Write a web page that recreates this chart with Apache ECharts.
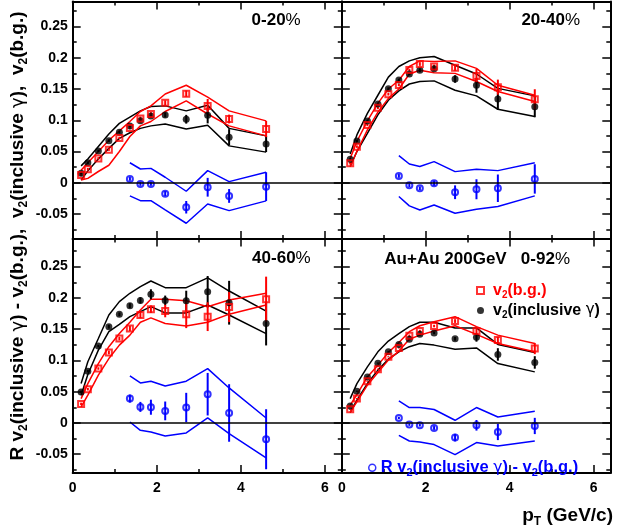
<!DOCTYPE html>
<html><head><meta charset="utf-8">
<script src="https://cdn.jsdelivr.net/npm/echarts@6/dist/echarts.min.js"></script>
<style>html,body{margin:0;padding:0;background:#fff}#c{width:628px;height:529px}</style>
</head><body><div id="c"></div><script>
// ---------- data ----------
const pT     = [0.2, 0.36, 0.61, 0.86, 1.11, 1.36, 1.61, 1.86, 2.2, 2.7, 3.21, 3.72, 4.6];
const pTdiff = [1.36, 1.61, 1.86, 2.2, 2.7, 3.21, 3.72, 4.6];
const panelLabels = ['0-20', '20-40', '40-60', '0-92'];
const xTicks = [0, 2, 4, 6];
const xMinorTicks = [1, 3, 5];
const yTicks = [-0.05, 0, 0.05, 0.1, 0.15, 0.2, 0.25];
const yMinorTicks = [-0.075, -0.025, 0.025, 0.075, 0.125, 0.175, 0.225, 0.275];

// 0-20%
const bg_0_20      = [0.0125,0.0216,0.039,0.053,0.0717,0.0877,0.103,0.110,0.128,0.1426,0.123,0.102,0.086];
const bgErr_0_20   = [0.002,0.002,0.002,0.002,0.002,0.002,0.003,0.003,0.004,0.005,0.011,0.007,0.013];
const bgHi_0_20    = [0.020,0.032,0.050,0.068,0.083,0.098,0.114,0.123,0.142,0.156,0.137,0.115,0.099];
const bgLo_0_20    = [0.0045,0.007,0.018,0.028,0.050,0.074,0.091,0.098,0.114,0.131,0.110,0.091,0.075];
const inc_0_20     = [0.0152,0.032,0.0509,0.0674,0.0808,0.0909,0.0994,0.1069,0.1085,0.1016,0.108,0.0728,0.0621];
const incErr_0_20  = [0.002,0.002,0.002,0.002,0.002,0.002,0.003,0.003,0.004,0.007,0.013,0.013,0.013];
const incHi_0_20   = [0.027,0.038,0.058,0.078,0.095,0.105,0.115,0.122,0.123,0.115,0.124,0.087,0.075];
const incLo_0_20   = [0.0045,0.019,0.038,0.055,0.071,0.080,0.087,0.091,0.094,0.086,0.092,0.059,0.049];
const diff_0_20    = [0.0061,-0.0019,-0.0019,-0.0174,-0.0392,-0.0072,-0.0211,-0.0062];
const diffErr_0_20 = [0.003,0.003,0.003,0.004,0.010,0.015,0.011,0.023];
const diffHi_0_20  = [0.032,0.022,0.023,0.0088,-0.0136,0.0194,0.0018,0.0168];
const diffLo_0_20  = [-0.021,-0.0286,-0.0286,-0.0435,-0.0648,-0.034,-0.0446,-0.029];

// 20-40%
const bg_20_40      = [0.0312,0.0578,0.0925,0.120,0.1416,0.1565,0.1805,0.190,0.186,0.184,0.171,0.153,0.1336];
const bgErr_20_40   = [0.002,0.002,0.002,0.002,0.002,0.002,0.002,0.003,0.003,0.005,0.011,0.012,0.016];
const bgHi_20_40    = [0.039,0.066,0.099,0.127,0.150,0.164,0.186,0.195,0.194,0.195,0.183,0.156,0.140];
const bgLo_20_40    = [0.026,0.050,0.0845,0.113,0.135,0.150,0.174,0.180,0.176,0.175,0.162,0.146,0.130];
const inc_20_40     = [0.0376,0.0669,0.0989,0.126,0.1506,0.1645,0.174,0.180,0.1826,0.166,0.156,0.134,0.1218];
const incErr_20_40  = [0.002,0.002,0.002,0.002,0.002,0.002,0.002,0.003,0.003,0.006,0.012,0.0176,0.017];
const incHi_20_40   = [0.046,0.0765,0.111,0.140,0.169,0.186,0.195,0.200,0.202,0.188,0.174,0.151,0.139];
const incLo_20_40   = [0.026,0.050,0.079,0.1085,0.132,0.147,0.158,0.162,0.163,0.148,0.139,0.1176,0.106];
const diff_20_40    = [0.0109,-0.004,-0.0088,-0.0008,-0.0152,-0.0104,-0.0088,0.0061];
const diffErr_20_40 = [0.003,0.003,0.003,0.004,0.011,0.016,0.022,0.0235];
const diffHi_20_40  = [0.0434,0.030,0.026,0.0338,0.0178,0.0216,0.0194,0.032];
const diffLo_20_40  = [-0.022,-0.037,-0.0435,-0.0355,-0.0488,-0.0424,-0.038,-0.021];

// 40-60%
const bg_40_60      = [0.0305,0.054,0.0871,0.1128,0.135,0.151,0.1726,0.182,0.179,0.1737,0.170,0.1854,0.198];
const bgErr_40_60   = [0.002,0.002,0.002,0.003,0.003,0.004,0.005,0.006,0.010,0.022,0.023,0.024,0.036];
const bgHi_40_60    = [0.039,0.063,0.095,0.122,0.143,0.161,0.1806,0.198,0.198,0.1955,0.186,0.1966,0.2074];
const bgLo_40_60    = [0.0257,0.0444,0.0764,0.103,0.1245,0.1405,0.161,0.168,0.159,0.155,0.161,0.174,0.1886];
const inc_40_60     = [0.0497,0.0829,0.123,0.154,0.1737,0.1875,0.196,0.2058,0.196,0.1955,0.210,0.1923,0.159];
const incErr_40_60  = [0.002,0.002,0.002,0.003,0.003,0.004,0.005,0.008,0.0077,0.016,0.025,0.035,0.035];
const incHi_40_60   = [0.063,0.098,0.135,0.1726,0.194,0.2074,0.218,0.227,0.2164,0.2164,0.232,0.211,0.179];
const incLo_40_60   = [0.0444,0.0776,0.1165,0.146,0.1577,0.170,0.178,0.186,0.176,0.176,0.1886,0.1726,0.143];
const diff_40_60    = [0.039,0.0257,0.0252,0.0193,0.0247,0.046,0.016,-0.026];
const diffErr_40_60 = [0.0064,0.008,0.012,0.015,0.0235,0.034,0.046,0.048];
const diffHi_40_60  = [0.0753,0.064,0.0668,0.059,0.0668,0.087,0.056,0.008];
const diffLo_40_60  = [0.0016,-0.0117,-0.0144,-0.0208,-0.016,0.008,-0.017,-0.056];

// 0-92%
const bg_0_92      = [0.022,0.039,0.0668,0.086,0.1058,0.120,0.1394,0.147,0.155,0.163,0.147,0.1325,0.119];
const bgErr_0_92   = [0.001,0.001,0.001,0.001,0.001,0.001,0.002,0.002,0.002,0.003,0.004,0.005,0.009];
const bgHi_0_92    = [0.0284,0.0455,0.0737,0.0925,0.1128,0.1288,0.146,0.1555,0.162,0.170,0.154,0.1405,0.127];
const bgLo_0_92    = [0.0176,0.0337,0.0604,0.0808,0.1005,0.115,0.134,0.1405,0.147,0.1555,0.1417,0.127,0.1138];
const inc_0_92     = [0.0273,0.0508,0.0737,0.0957,0.1138,0.1256,0.134,0.142,0.144,0.1346,0.137,0.1096,0.0968];
const incErr_0_92  = [0.001,0.001,0.001,0.001,0.001,0.001,0.002,0.002,0.002,0.003,0.007,0.010,0.010];
const incHi_0_92   = [0.039,0.063,0.0897,0.1138,0.131,0.143,0.154,0.161,0.161,0.152,0.152,0.1256,0.1128];
const incLo_0_92   = [0.0166,0.0364,0.063,0.0845,0.102,0.1138,0.122,0.127,0.1245,0.118,0.120,0.095,0.0817];
const diff_0_92    = [0.008,-0.0026,-0.0037,-0.008,-0.0234,-0.0037,-0.0144,-0.0048];
const diffErr_0_92 = [0.002,0.002,0.002,0.003,0.006,0.0085,0.013,0.013];
const diffHi_0_92  = [0.0353,0.0247,0.0247,0.0215,0.0043,0.0247,0.0096,0.0188];
const diffLo_0_92  = [-0.0197,-0.0288,-0.0304,-0.0346,-0.0506,-0.0314,-0.0368,-0.0288];

// ---------- layout / style ----------
const FONT = '"Liberation Sans", Arial, Helvetica, sans-serif';
const RED = '#ff0000', BLACK = '#000000', BLUE = '#0000ff';
const gridDefs = [
  {left: 72.7,  top: 1.5,   width: 269.1, height: 237.5, ymin: -0.09, ymax: 0.29,  xlab: false, ylab: true},
  {left: 341.8, top: 1.5,   width: 268.5, height: 237.5, ymin: -0.09, ymax: 0.29,  xlab: false, ylab: false},
  {left: 72.7,  top: 238.5, width: 269.1, height: 234.5, ymin: -0.08, ymax: 0.295, xlab: true,  ylab: true},
  {left: 341.8, top: 238.5, width: 268.5, height: 234.5, ymin: -0.08, ymax: 0.295, xlab: true,  ylab: false}
];
const panelData = [
  {bg: bg_0_20, bgErr: bgErr_0_20, bgHi: bgHi_0_20, bgLo: bgLo_0_20, inc: inc_0_20, incErr: incErr_0_20, incHi: incHi_0_20, incLo: incLo_0_20, diff: diff_0_20, diffErr: diffErr_0_20, diffHi: diffHi_0_20, diffLo: diffLo_0_20},
  {bg: bg_20_40, bgErr: bgErr_20_40, bgHi: bgHi_20_40, bgLo: bgLo_20_40, inc: inc_20_40, incErr: incErr_20_40, incHi: incHi_20_40, incLo: incLo_20_40, diff: diff_20_40, diffErr: diffErr_20_40, diffHi: diffHi_20_40, diffLo: diffLo_20_40},
  {bg: bg_40_60, bgErr: bgErr_40_60, bgHi: bgHi_40_60, bgLo: bgLo_40_60, inc: inc_40_60, incErr: incErr_40_60, incHi: incHi_40_60, incLo: incLo_40_60, diff: diff_40_60, diffErr: diffErr_40_60, diffHi: diffHi_40_60, diffLo: diffLo_40_60},
  {bg: bg_0_92, bgErr: bgErr_0_92, bgHi: bgHi_0_92, bgLo: bgLo_0_92, inc: inc_0_92, incErr: incErr_0_92, incHi: incHi_0_92, incLo: incLo_0_92, diff: diff_0_92, diffErr: diffErr_0_92, diffHi: diffHi_0_92, diffLo: diffLo_0_92}
];

const grids = [], xAxes = [], yAxes = [], series = [];
const zip = (xs, ys) => xs.map((x, i) => [x, ys[i]]);

gridDefs.forEach((g, gi) => {
  grids.push({left: g.left, top: g.top, width: g.width, height: g.height, containLabel: false});
  const xBase = {type: 'value', gridIndex: gi, min: 0, max: 6.4, splitLine: {show: false}};
  const lbl = {fontFamily: FONT, fontSize: 14, fontWeight: 'bold', color: '#000'};
  xAxes.push(Object.assign({}, xBase, {position: 'bottom',
    axisLine: {show: true, onZero: false, lineStyle: {color: '#000', width: 2}},
    axisTick: {show: true, inside: true, length: 8, customValues: xTicks, lineStyle: {color: '#000', width: 1.5}},
    axisLabel: Object.assign({show: g.xlab, customValues: xTicks, margin: 8}, lbl)}));
  xAxes.push(Object.assign({}, xBase, {position: 'top',
    axisLine: {show: true, onZero: false, lineStyle: {color: '#000', width: 2}},
    axisTick: {show: true, inside: true, length: 8, customValues: xTicks, lineStyle: {color: '#000', width: 1.5}},
    axisLabel: {show: false}}));
  ['bottom', 'top'].forEach(pos => xAxes.push(Object.assign({}, xBase, {position: pos,
    axisLine: {show: false, onZero: false},
    axisTick: {show: true, inside: true, length: 4, customValues: xMinorTicks, lineStyle: {color: '#000', width: 1.5}},
    axisLabel: {show: false}})));

  const yBase = {type: 'value', gridIndex: gi, min: g.ymin, max: g.ymax, splitLine: {show: false}};
  yAxes.push(Object.assign({}, yBase, {position: 'left',
    axisLine: {show: true, onZero: false, lineStyle: {color: '#000', width: 2}},
    axisTick: {show: true, inside: true, length: 8, customValues: yTicks, lineStyle: {color: '#000', width: 1.5}},
    axisLabel: Object.assign({show: g.ylab, customValues: yTicks, margin: 5, formatter: v => String(+(+v).toFixed(3))}, lbl)}));
  yAxes.push(Object.assign({}, yBase, {position: 'right',
    axisLine: {show: true, onZero: false, lineStyle: {color: '#000', width: 2}},
    axisTick: {show: true, inside: true, length: 8, customValues: yTicks, lineStyle: {color: '#000', width: 1.5}},
    axisLabel: {show: false}}));
  ['left', 'right'].forEach(pos => yAxes.push(Object.assign({}, yBase, {position: pos,
    axisLine: {show: false, onZero: false},
    axisTick: {show: true, inside: true, length: 4, customValues: yMinorTicks, lineStyle: {color: '#000', width: 1.5}},
    axisLabel: {show: false}})));

  const ax = {xAxisIndex: gi * 4, yAxisIndex: gi * 4};
  const d = panelData[gi];
  const band = (xs, ys, color) => Object.assign({type: 'line', data: zip(xs, ys), symbol: 'none', silent: true,
    lineStyle: {color: color, width: 1.5}, z: 2}, ax);
  series.push(band(pT, d.incHi, BLACK), band(pT, d.incLo, BLACK));
  series.push(band(pT, d.bgHi, RED), band(pT, d.bgLo, RED));
  series.push(band(pTdiff, d.diffHi, BLUE), band(pTdiff, d.diffLo, BLUE));

  const err = (xs, ys, es, color) => Object.assign({type: 'custom', silent: true, z: 3,
    data: xs.map((x, i) => [x, ys[i] - es[i], ys[i] + es[i]]),
    encode: {x: 0, y: [1, 2]},
    renderItem: (params, api) => {
      const a = api.coord([api.value(0), api.value(1)]);
      const b = api.coord([api.value(0), api.value(2)]);
      return {type: 'line', shape: {x1: a[0], y1: a[1], x2: b[0], y2: b[1]}, style: {stroke: color, lineWidth: 2}};
    }}, ax);
  series.push(err(pT, d.inc, d.incErr, BLACK), err(pT, d.bg, d.bgErr, RED), err(pTdiff, d.diff, d.diffErr, BLUE));

  series.push(Object.assign({type: 'scatter', name: 'inc', data: zip(pT, d.inc), symbol: 'circle', symbolSize: 7,
    itemStyle: {color: BLACK}, z: 4}, ax));
  series.push(Object.assign({type: 'scatter', name: 'bg', data: zip(pT, d.bg), symbol: 'rect', symbolSize: 6,
    itemStyle: {color: 'transparent', borderColor: RED, borderWidth: 2}, z: 4}, ax));
  series.push(Object.assign({type: 'scatter', name: 'diff', data: zip(pTdiff, d.diff), symbol: 'circle', symbolSize: 6,
    itemStyle: {color: 'transparent', borderColor: BLUE, borderWidth: 2}, z: 4,
    markLine: {silent: true, symbol: 'none', label: {show: false}, animation: false,
      lineStyle: {color: '#000', width: 1.5, type: 'solid'}, data: [{yAxis: 0}]}}, ax));
});

const rich = (size) => ({
  n: {fontFamily: FONT, fontSize: size, fontWeight: 'bold', lineHeight: size + 4, verticalAlign: 'middle'},
  s: {fontFamily: FONT, fontSize: Math.round(size * 0.65), fontWeight: 'bold', lineHeight: Math.round(size * 0.65), verticalAlign: 'bottom'},
  g: {fontFamily: 'DejaVu Sans', fontSize: size - 1, fontWeight: 'normal', lineHeight: size + 4, verticalAlign: 'middle'},
  p: {fontFamily: FONT, fontSize: size, fontWeight: 'normal', lineHeight: size + 4, verticalAlign: 'middle', color: '#444'}
});
const legendNames = {
  bg: '{n|v}{s|2}{n|(b.g.)}',
  inc: '{n|v}{s|2}{n|(inclusive }{g|γ}{n|)}',
  diff: '{n|R v}{s|2}{n|(inclusive }{g|γ}{n|) - v}{s|2}{n|(b.g.)}'
};
const legendBase = {orient: 'vertical', itemWidth: 7, itemHeight: 7, itemGap: 0, padding: 0, selectedMode: false,
  formatter: name => legendNames[name]};

const panelText = (label, x, y) => ({type: 'text', x: x, y: y, silent: true,
  style: {text: label, align: 'right', verticalAlign: 'middle', rich: rich(17), fill: '#000'}});

const option = {
  animation: false,
  backgroundColor: '#fff',
  grid: grids, xAxis: xAxes, yAxis: yAxes, series: series,
  legend: [
    Object.assign({}, legendBase, {left: 476, top: 280.5,
      textStyle: {fontFamily: FONT, fontSize: 16, fontWeight: 'bold', lineHeight: 19, rich: rich(16)},
      data: [
      {name: 'bg', icon: 'rect', itemStyle: {color: 'transparent', borderColor: RED, borderWidth: 2}, textStyle: {color: RED, padding: [0, 0, 0, 4]}},
      {name: 'inc', icon: 'circle', itemStyle: {color: BLACK}, textStyle: {color: BLACK, padding: [0, 0, 0, 4]}}]}),
    Object.assign({}, legendBase, {left: 368, top: 457.5,
      textStyle: {fontFamily: FONT, fontSize: 16.5, fontWeight: 'bold', lineHeight: 19, rich: rich(16.5)},
      data: [
      {name: 'diff', icon: 'circle', itemStyle: {color: 'transparent', borderColor: BLUE, borderWidth: 1.5}, textStyle: {color: BLUE}}]})
  ],
  graphic: [
    panelText('{n|' + panelLabels[0] + '}{p|%}', 300.7, 20),
    panelText('{n|' + panelLabels[1] + '}{p|%}', 580, 20),
    panelText('{n|' + panelLabels[2] + '}{p|%}', 310.7, 258),
    panelText('{n|Au+Au 200GeV   ' + panelLabels[3] + '}{p|%}', 570, 259),
    {type: 'text', x: 18, y: 236, rotation: Math.PI / 2, silent: true,
      style: {text: '{n|R v}{s|2}{n|(inclusive }{g|γ}{n|) - v}{s|2}{n|(b.g.),  v}{s|2}{n|(inclusive }{g|γ}{n|),  v}{s|2}{n|(b.g.)}',
        align: 'center', verticalAlign: 'middle', rich: rich(19), fill: '#000'}},
    {type: 'text', x: 613, y: 516, silent: true,
      style: {text: '{n|p}{s|T}{n| (GeV/c)}', align: 'right', verticalAlign: 'middle', rich: rich(19), fill: '#000'}}
  ]
};
echarts.init(document.getElementById('c'), null, {renderer: 'canvas'}).setOption(option);
</script></body></html>
